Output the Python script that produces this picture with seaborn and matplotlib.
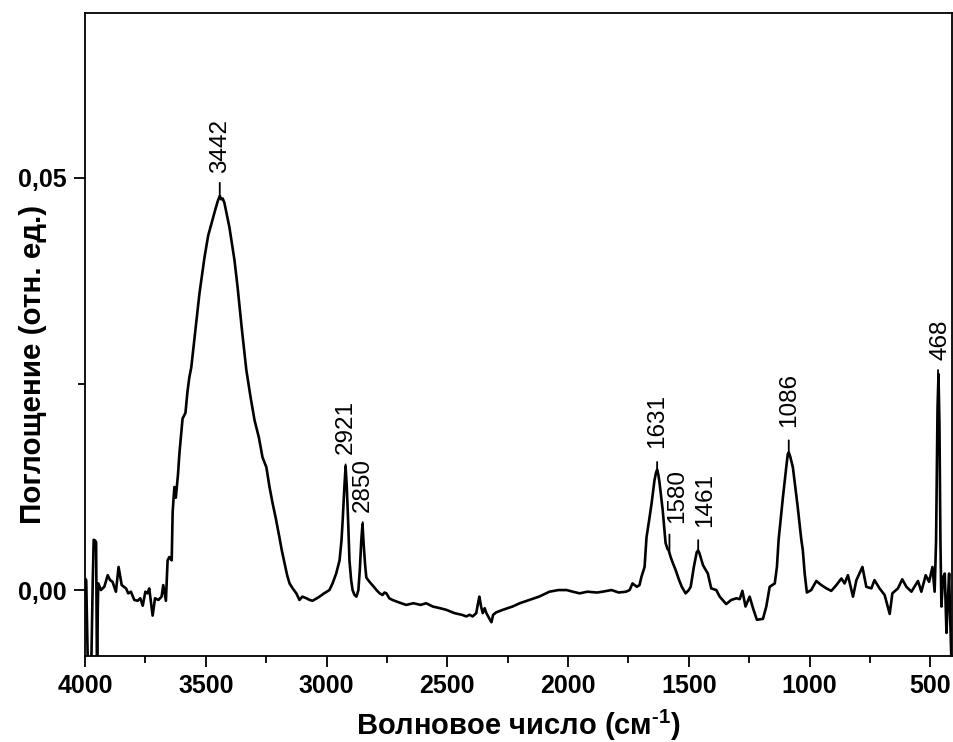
import matplotlib
matplotlib.use("Agg")
import matplotlib.pyplot as plt
from matplotlib.ticker import MultipleLocator, FuncFormatter
import pandas as pd
import seaborn as sns

# IR spectrum (wavenumber, cm-1 / absorbance)
wavenumber = [
    4000, 3995, 3989, 3982, 3975, 3968, 3964, 3958, 3954, 3950, 3947, 3945,
    3934, 3920, 3906, 3896, 3886, 3872, 3861, 3848, 3830, 3821, 3810, 3796,
    3782, 3771, 3761, 3750, 3741, 3734, 3720, 3710, 3696, 3683, 3676, 3665,
    3658, 3651, 3641, 3637, 3630, 3624, 3615, 3609, 3596, 3584, 3576, 3568,
    3560, 3545, 3526, 3505, 3490, 3476, 3460, 3450, 3442, 3436, 3430, 3423,
    3402, 3381, 3368, 3350, 3332, 3315, 3298, 3280, 3265, 3249, 3236, 3223,
    3210, 3195, 3185, 3174, 3163, 3153, 3140, 3125, 3112, 3100, 3083, 3070,
    3058, 3040, 3029, 3010, 2988, 2975, 2960, 2946, 2938, 2933, 2926, 2921,
    2916, 2910, 2905, 2898, 2892, 2884, 2876, 2868, 2862, 2856, 2851, 2846,
    2840, 2835, 2822, 2810, 2793, 2780, 2768, 2760, 2752, 2740, 2727, 2700,
    2670, 2640, 2610, 2587, 2560, 2530, 2504, 2470, 2440, 2421, 2408, 2395,
    2380, 2372, 2367, 2360, 2353, 2345, 2338, 2325, 2317, 2310, 2297, 2270,
    2230, 2200, 2160, 2120, 2077, 2040, 2006, 1980, 1952, 1920, 1880, 1857,
    1820, 1790, 1760, 1745, 1733, 1715, 1704, 1696, 1683, 1675, 1664, 1654,
    1642, 1636, 1631, 1626, 1621, 1608, 1596, 1588, 1583, 1575, 1565, 1554,
    1540, 1529, 1513, 1500, 1492, 1479, 1467, 1461, 1455, 1441, 1421, 1407,
    1386, 1372, 1345, 1324, 1303, 1289, 1278, 1265, 1248, 1234, 1218, 1193,
    1179, 1165, 1144, 1135, 1128, 1110, 1096, 1090, 1086, 1080, 1069, 1049,
    1034, 1028, 1020, 1011, 993, 972, 951, 930, 910, 889, 868, 855,
    841, 820, 806, 781, 765, 744, 731, 710, 689, 668, 657, 634,
    616, 599, 578, 551, 537, 519, 505, 491, 482, 476, 470, 466,
    462, 458, 454, 447, 440, 433, 427, 422, 417, 413, 408,
]
absorbance = [
    0.0014, 0.0012, -0.0080, -0.0120, -0.0110, 0.0010, 0.0061, 0.0060, 0.0058, -0.0120, -0.0020, 0.0008,
    0.0000, 0.0004, 0.0018, 0.0012, 0.0010, -0.0002, 0.0028, 0.0006, 0.0002, -0.0004, -0.0002, -0.0012,
    -0.0013, -0.0010, -0.0019, -0.0002, -0.0004, 0.0002, -0.0031, -0.0010, -0.0012, -0.0008, 0.0006, -0.0013,
    0.0036, 0.0040, 0.0036, 0.0095, 0.0125, 0.0112, 0.0140, 0.0166, 0.0208, 0.0215, 0.0240, 0.0258,
    0.0270, 0.0310, 0.0360, 0.0404, 0.0430, 0.0445, 0.0462, 0.0472, 0.0478, 0.0474, 0.0475, 0.0470,
    0.0440, 0.0400, 0.0367, 0.0315, 0.0267, 0.0235, 0.0206, 0.0185, 0.0161, 0.0149, 0.0125, 0.0105,
    0.0087, 0.0064, 0.0048, 0.0033, 0.0018, 0.0008, 0.0002, -0.0004, -0.0012, -0.0008, -0.0010, -0.0012,
    -0.0013, -0.0010, -0.0008, -0.0004, 0.0000, 0.0008, 0.0020, 0.0036, 0.0060, 0.0085, 0.0125, 0.0150,
    0.0125, 0.0080, 0.0036, 0.0012, 0.0000, -0.0006, -0.0008, 0.0000, 0.0025, 0.0060, 0.0080, 0.0055,
    0.0030, 0.0015, 0.0010, 0.0006, 0.0000, -0.0004, -0.0006, -0.0003, -0.0004, -0.0010, -0.0012, -0.0015,
    -0.0018, -0.0016, -0.0018, -0.0016, -0.0020, -0.0022, -0.0024, -0.0028, -0.0030, -0.0032, -0.0030, -0.0032,
    -0.0028, -0.0015, -0.0008, -0.0020, -0.0028, -0.0022, -0.0028, -0.0035, -0.0039, -0.0030, -0.0027, -0.0024,
    -0.0020, -0.0016, -0.0012, -0.0008, -0.0002, 0.0000, 0.0000, -0.0002, -0.0004, -0.0002, -0.0003, -0.0002,
    0.0000, -0.0003, -0.0002, 0.0000, 0.0008, 0.0004, 0.0006, 0.0016, 0.0028, 0.0064, 0.0085, 0.0105,
    0.0133, 0.0142, 0.0146, 0.0140, 0.0130, 0.0097, 0.0057, 0.0050, 0.0048, 0.0040, 0.0032, 0.0024,
    0.0012, 0.0004, -0.0004, 0.0000, 0.0004, 0.0028, 0.0046, 0.0048, 0.0044, 0.0030, 0.0020, 0.0002,
    0.0000, -0.0008, -0.0017, -0.0012, -0.0010, -0.0011, -0.0001, -0.0020, -0.0008, -0.0022, -0.0036, -0.0035,
    -0.0020, 0.0004, 0.0008, 0.0028, 0.0061, 0.0113, 0.0150, 0.0165, 0.0167, 0.0162, 0.0149, 0.0101,
    0.0061, 0.0049, 0.0020, -0.0003, 0.0000, 0.0011, 0.0006, 0.0002, -0.0001, 0.0006, 0.0014, 0.0008,
    0.0018, -0.0008, 0.0012, 0.0028, 0.0004, 0.0002, 0.0012, 0.0002, -0.0006, -0.0029, -0.0004, 0.0002,
    0.0013, 0.0004, -0.0002, 0.0011, -0.0002, 0.0018, 0.0010, 0.0028, -0.0002, 0.0060, 0.0220, 0.0262,
    0.0200, 0.0060, -0.0020, 0.0015, 0.0020, -0.0052, -0.0010, 0.0020, -0.0040, -0.0081, -0.0110,
]

# labelled bands
peak_wn = [3442, 2921, 2850, 1631, 1580, 1461, 1086, 468]
peak_abs = [0.0477, 0.0150, 0.0080, 0.0142, 0.0048, 0.0046, 0.0167, 0.0262]

df = pd.DataFrame({"wn": wavenumber, "A": absorbance})

sns.set_theme(style="ticks")
plt.rcParams["font.family"] = ["Liberation Sans", "DejaVu Sans"]
plt.rcParams["mathtext.fontset"] = "custom"
plt.rcParams["mathtext.rm"] = "Liberation Sans:bold"
plt.rcParams["mathtext.bf"] = "Liberation Sans:bold"
for key in ["axes.edgecolor", "xtick.color", "ytick.color", "text.color", "axes.labelcolor"]:
    plt.rcParams[key] = "black"
plt.rcParams["axes.linewidth"] = 1.3
for key in ["xtick.major.width", "ytick.major.width", "xtick.minor.width", "ytick.minor.width"]:
    plt.rcParams[key] = 1.3

fig = plt.figure(figsize=(9.54, 7.42), dpi=100)
ax = fig.add_axes([85 / 954, 86 / 742, 867.5 / 954, 643 / 742])

sns.lineplot(data=df, x="wn", y="A", color="black", linewidth=1.9, ax=ax)

ax.set_xlim(4000, 408)
ax.set_ylim(-0.008, 0.070)

ax.xaxis.set_major_locator(MultipleLocator(500))
ax.xaxis.set_minor_locator(MultipleLocator(250))
ax.yaxis.set_major_locator(MultipleLocator(0.05))
ax.yaxis.set_minor_locator(MultipleLocator(0.025))
ax.yaxis.set_major_formatter(FuncFormatter(lambda v, p: f"{v:.2f}".replace(".", ",")))

ax.tick_params(which="major", length=8, direction="out", labelsize=18, pad=5)
ax.tick_params(which="minor", length=5, direction="out")
for lab in ax.get_xticklabels() + ax.get_yticklabels():
    lab.set_fontweight("bold")

ax.set_xlabel(r"Волновое число (см$^{\text{-1}}$)", fontsize=21, fontweight="bold")
ax.xaxis.set_label_coords(0.5, -0.08)
ax.set_ylabel("Поглощение (отн. ед.)", fontsize=21.3, fontweight="bold")
ax.yaxis.set_label_coords(-0.044, 0.453)

# peak labels with short leader lines (pixel offsets)
line_len = [14, 2, 2, 11, 16, 12, 12, 4]
gap = [10, 10, 10, 14, 11, 13, 13, 10]
shift = [0, 0, 0, 0, 8, 7, 0, 2]
for i, (w, a) in enumerate(zip(peak_wn, peak_abs)):
    ax.annotate("", xy=(w, a), xytext=(0, line_len[i]), textcoords="offset pixels",
                arrowprops=dict(arrowstyle="-", color="black", lw=1.3, shrinkA=0, shrinkB=0))
    ax.annotate(str(w), xy=(w, a), xytext=(shift[i], line_len[i] + gap[i]),
                textcoords="offset pixels", rotation=90, ha="center", va="bottom",
                fontsize=17.5, color="black")

fig.savefig("out.png", dpi=100)
